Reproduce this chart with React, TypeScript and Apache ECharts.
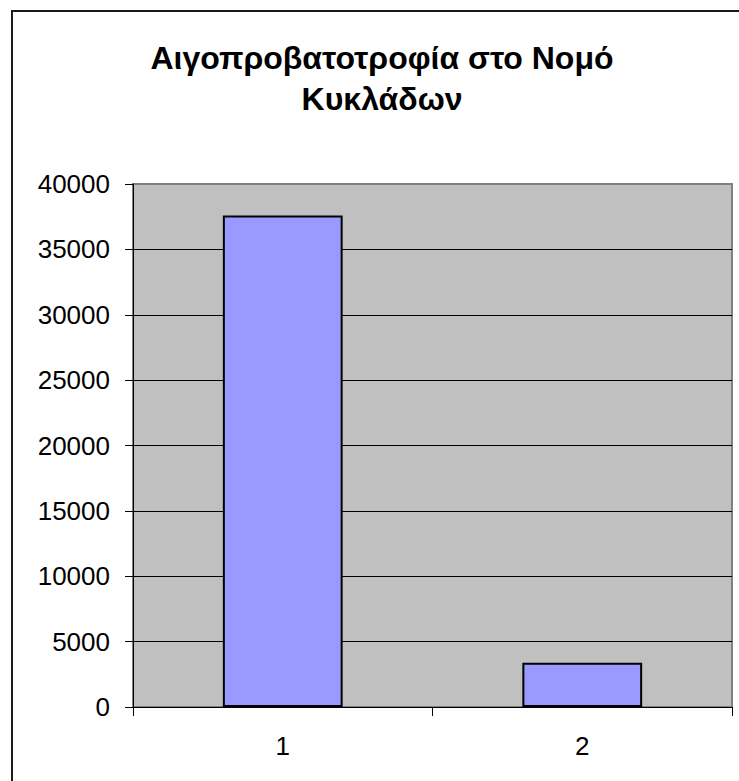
import React, { useEffect, useRef } from "react";
import * as echarts from "echarts";

const categories = ["1", "2"];
const values = [37600, 3380];
const titleText = "Αιγοπροβατοτροφία στο Νομό\nΚυκλάδων";
const yMin = 0;
const yMax = 40000;
const yInterval = 5000;

const FONT = "'Liberation Sans', Arial, Helvetica, sans-serif";

export default function App() {
  const ref = useRef<HTMLDivElement>(null);
  useEffect(() => {
    document.body.style.margin = "0";
    const chart = echarts.init(ref.current!, null, { renderer: "svg" });
    chart.setOption({
      animation: false,
      backgroundColor: "#ffffff",
      graphic: [
        {
          type: "rect",
          shape: { x: 12, y: 11, width: 760, height: 800 },
          style: { fill: "none", stroke: "#1a1a1a", lineWidth: 2 },
          silent: true,
          z: 100,
        },
        {
          type: "text",
          x: 382,
          y: 37,
          style: {
            text: titleText,
            fill: "#000",
            font: `bold 32px ${FONT}`,
            lineHeight: 41,
            textAlign: "center",
            textVerticalAlign: "top",
          },
          z: 100,
        },
      ],
      grid: {
        left: 133,
        top: 184,
        width: 599,
        height: 523,
        show: true,
        backgroundColor: "#C0C0C0",
        borderColor: "#808080",
        borderWidth: 2,
      },
      xAxis: {
        type: "category",
        data: categories,
        boundaryGap: true,
        axisLine: { show: true, lineStyle: { color: "#000", width: 1 } },
        axisTick: { show: true, inside: false, length: 9, alignWithLabel: false, lineStyle: { color: "#000" } },
        axisLabel: { fontSize: 26, color: "#000", fontFamily: FONT, margin: 26 },
        splitLine: { show: false },
      },
      yAxis: {
        type: "value",
        min: yMin,
        max: yMax,
        interval: yInterval,
        axisLine: { show: true, lineStyle: { color: "#000", width: 1 } },
        axisTick: { show: true, inside: false, length: 8, lineStyle: { color: "#000" } },
        axisLabel: {
          fontSize: 26,
          color: "#000",
          fontFamily: FONT,
          margin: 23,
          formatter: (v: number) => String(v),
        },
        splitLine: { show: true, showMaxLine: false, lineStyle: { color: "#000", width: 1 } },
      },
      series: [
        {
          type: "bar",
          data: values,
          barWidth: "40%",
          itemStyle: { color: "#9999FF", borderColor: "#000", borderWidth: 2 },
        },
      ],
    });
    return () => chart.dispose();
  }, []);
  return (
    <div
      ref={ref}
      style={{ position: "fixed", left: 0, top: 0, width: 739, height: 781 }}
    />
  );
}
